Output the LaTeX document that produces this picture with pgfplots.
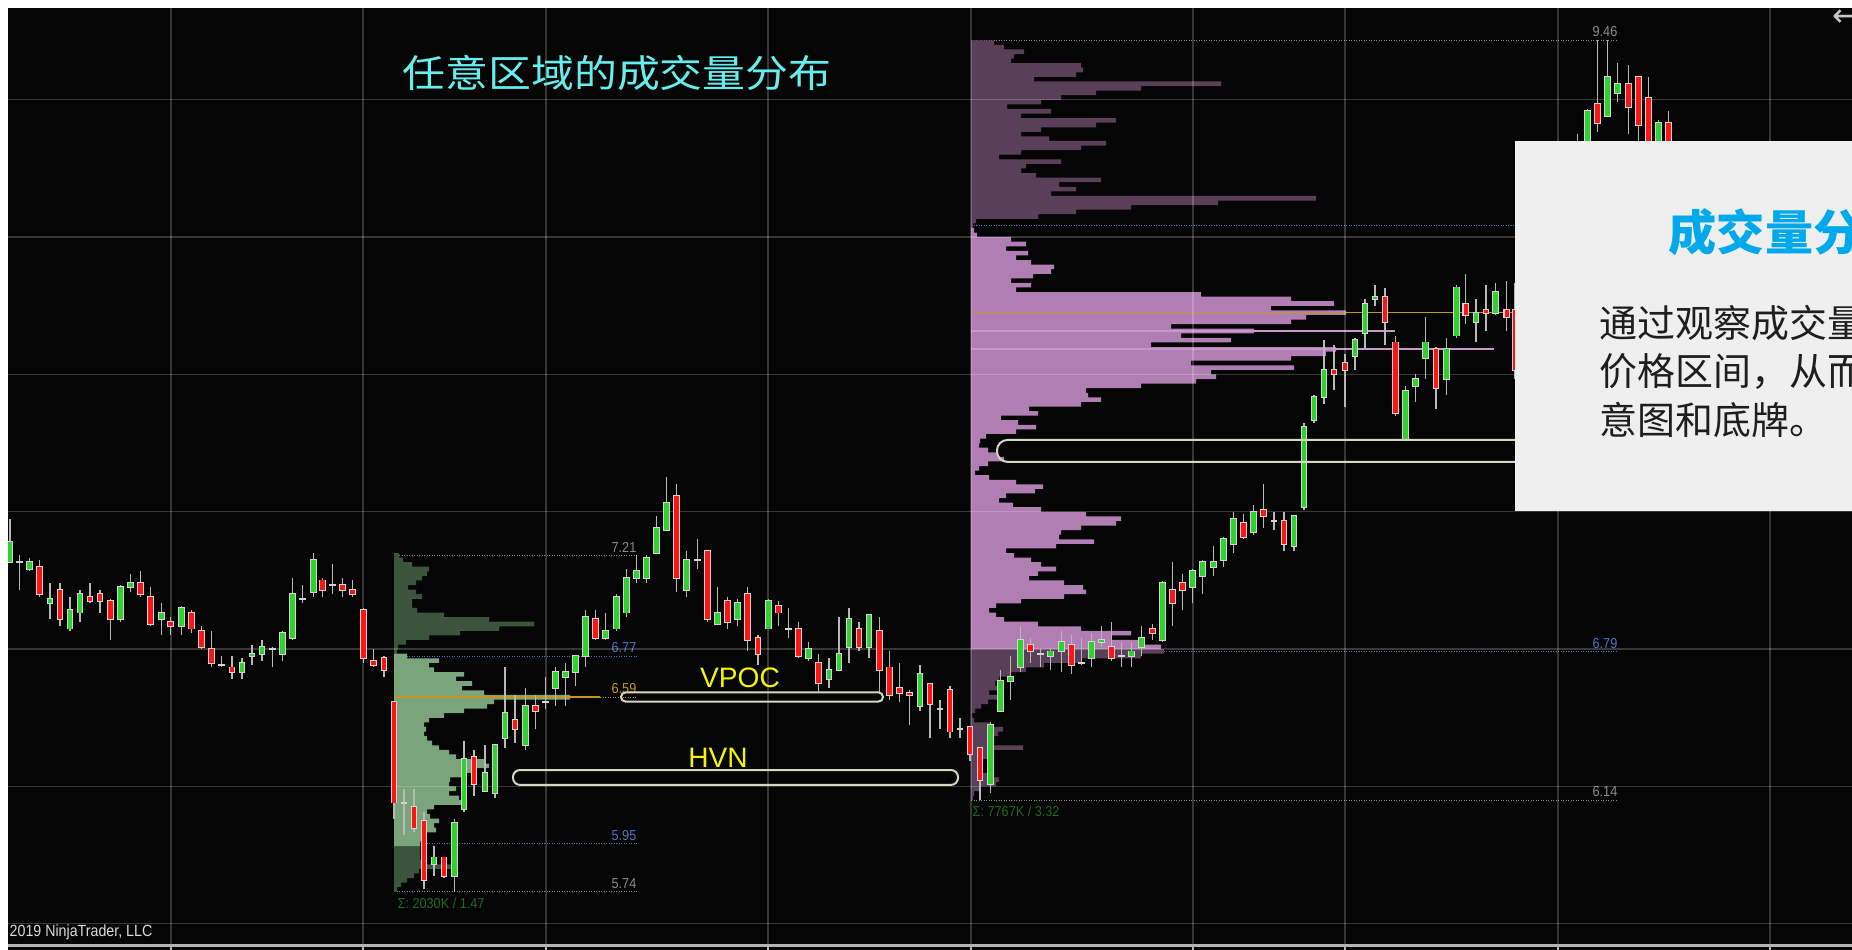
\documentclass[border=0pt]{standalone}
\usepackage{pgfplots}
\pgfplotsset{compat=1.18}
\usepackage{pgfplotstable}
\usepackage{fontspec}
\setmainfont{Liberation Sans}
\newfontfamily\narrowfont[FakeStretch=0.88]{Liberation Sans}
\newfontfamily\cjk{Noto Sans CJK SC}
\newfontfamily\cjkwide[FakeStretch=1.13]{Noto Sans CJK SC}
\newfontfamily\symb{DejaVu Sans}

\definecolor{bg}{HTML}{050505}
\definecolor{upc}{HTML}{2FD12F}
\definecolor{dnc}{HTML}{FF1414}
\definecolor{wickc}{HTML}{B8B8B8}
\definecolor{rimc}{HTML}{D4D4D4}
\definecolor{gdark}{HTML}{3B553D}
\definecolor{glight}{HTML}{7AA47A}
\definecolor{pdark}{HTML}{5A3F59}
\definecolor{plight}{HTML}{B07EB2}
\definecolor{pline}{HTML}{C896C8}
\definecolor{pocc}{HTML}{C8961E}
\definecolor{lvlgray}{HTML}{8C8C8C}
\definecolor{lvlblue}{HTML}{4A76C4}
\definecolor{sigc}{HTML}{1C6A1C}
\definecolor{ovalc}{HTML}{D6D6C2}
\definecolor{annc}{HTML}{F5F500}
\definecolor{titlec}{HTML}{66EEEE}
\definecolor{boxc}{HTML}{EFEFEF}
\definecolor{boxtitle}{HTML}{00A8EC}
\definecolor{boxtext}{HTML}{1E1E1E}
\definecolor{botc}{HTML}{B4B4B4}

% candles: x (pixel column), open, high, low, close
\pgfplotstableread{
x o h l c
10 7.18 7.37 7.18 7.27
29.3 7.15 7.20 7.14 7.18
50 7.00 7.09 6.93 7.02
70 6.89 7.03 6.88 6.97
80 6.96 7.06 6.92 7.04
120.7 6.93 7.08 6.92 7.07
130.7 7.07 7.13 7.05 7.09
161.3 6.93 7.00 6.86 6.96
181.3 6.90 6.99 6.86 6.98
242 6.70 6.76 6.67 6.74
252 6.77 6.82 6.73 6.78
262 6.78 6.84 6.75 6.81
282.7 6.78 6.88 6.75 6.87
292.7 6.85 7.11 6.84 7.04
313.3 7.05 7.22 7.03 7.19
434 5.86 5.94 5.81 5.89
454.7 5.81 6.06 5.74 6.04
464 6.10 6.40 6.09 6.32
485 6.18 6.38 6.18 6.26
495 6.17 6.38 6.15 6.38
505 6.41 6.72 6.37 6.52
525.3 6.38 6.63 6.36 6.55
555.7 6.63 6.72 6.55 6.70
565.7 6.68 6.74 6.55 6.70
575.7 6.70 6.77 6.64 6.77
585.7 6.77 6.97 6.72 6.94
605.7 6.85 6.96 6.84 6.88
616.2 6.89 7.04 6.88 7.03
626.7 6.96 7.15 6.94 7.11
636.7 7.11 7.21 7.09 7.14
646.7 7.11 7.21 7.09 7.20
656.7 7.22 7.38 7.22 7.33
666.7 7.32 7.55 7.32 7.44
686.7 7.06 7.23 7.03 7.19
717.3 6.91 7.07 6.91 6.96
737.3 6.93 7.02 6.90 7.00
768.3 6.89 7.02 6.89 7.01
808.3 6.76 6.83 6.75 6.80
829 6.67 6.76 6.63 6.71
839 6.71 6.94 6.71 6.78
849 6.81 6.98 6.74 6.93
869 6.81 6.95 6.76 6.95
920 6.55 6.73 6.53 6.69
990.3 6.21 6.48 6.17 6.47
1000.7 6.53 6.71 6.53 6.66
1010.7 6.66 6.77 6.58 6.68
1020.7 6.72 6.90 6.70 6.84
1050.7 6.77 6.80 6.71 6.79
1061.7 6.79 6.88 6.70 6.83
1091.7 6.76 6.87 6.72 6.83
1101.7 6.83 6.90 6.81 6.84
1131.7 6.77 6.83 6.72 6.79
1141.7 6.81 6.90 6.77 6.85
1162.3 6.84 7.10 6.83 7.09
1192.7 7.07 7.15 7.00 7.14
1202.7 7.12 7.19 7.04 7.18
1213.3 7.16 7.25 7.12 7.18
1223.3 7.19 7.29 7.16 7.28
1233.3 7.26 7.40 7.22 7.37
1253.3 7.31 7.43 7.30 7.40
1294 7.25 7.38 7.23 7.38
1304 7.42 7.79 7.41 7.77
1314 7.80 7.91 7.79 7.90
1324 7.90 8.15 7.87 8.02
1355 8.08 8.16 8.02 8.15
1365 8.18 8.33 8.11 8.31
1375 8.33 8.39 8.30 8.34
1405.7 7.72 7.95 7.71 7.93
1415.3 7.95 8.00 7.88 7.98
1425.4 8.07 8.25 7.98 8.14
1446.2 7.98 8.16 7.91 8.11
1456.3 8.17 8.39 8.16 8.38
1475.9 8.23 8.33 8.14 8.27
1495.5 8.27 8.40 8.26 8.36
1577.3 8.81 9.05 8.75 8.98
1587.3 8.95 9.16 8.90 9.15
1607.3 9.13 9.46 9.13 9.30
1617.3 9.23 9.36 9.19 9.27
1658.3 8.95 9.11 8.90 9.10
}\candleup

\pgfplotstableread{
x o h l c
39.3 7.16 7.19 7.03 7.04
60 7.06 7.09 6.90 6.93
90 7.03 7.09 7.00 7.01
100 7.04 7.06 6.96 7.01
110.7 7.01 7.02 6.84 6.93
140.7 7.09 7.14 7.03 7.04
150.7 7.03 7.07 6.90 6.91
170.7 6.92 6.94 6.86 6.90
191.3 6.96 6.97 6.87 6.89
201.3 6.88 6.90 6.80 6.81
211.3 6.80 6.88 6.72 6.74
232 6.72 6.77 6.67 6.70
322.7 7.10 7.11 7.03 7.06
342.7 7.08 7.11 7.03 7.06
352.7 7.06 7.10 7.03 7.04
363.3 6.97 6.98 6.74 6.76
373.3 6.75 6.80 6.72 6.73
384 6.76 6.77 6.68 6.71
394 6.57 6.57 6.06 6.13
414 6.11 6.19 6.00 6.02
424 6.05 6.09 5.75 5.79
444 5.89 5.89 5.80 5.81
474 6.33 6.36 6.16 6.21
515 6.49 6.60 6.39 6.45
535.3 6.55 6.60 6.45 6.53
595.7 6.93 6.97 6.84 6.85
676.7 7.47 7.52 7.05 7.11
707.3 7.23 7.23 6.92 6.93
727.3 7.01 7.03 6.89 6.92
747.3 7.04 7.07 6.79 6.84
758 6.85 6.86 6.73 6.78
778.3 6.99 7.01 6.90 6.96
798.3 6.89 6.92 6.76 6.77
818.3 6.74 6.78 6.61 6.65
859 6.89 6.92 6.79 6.81
879.3 6.88 6.94 6.61 6.71
889.3 6.72 6.79 6.58 6.60
899.3 6.63 6.74 6.57 6.61
909.3 6.61 6.62 6.47 6.60
930 6.65 6.65 6.41 6.56
950 6.62 6.64 6.41 6.44
970 6.46 6.46 6.31 6.34
980 6.37 6.37 6.14 6.23
1030.7 6.82 6.85 6.74 6.79
1071.7 6.82 6.86 6.69 6.73
1111.7 6.81 6.92 6.75 6.76
1152.3 6.89 6.91 6.84 6.87
1172.3 7.06 7.18 6.90 7.00
1182.3 7.09 7.13 6.97 7.06
1243.3 7.35 7.39 7.28 7.29
1263.3 7.41 7.52 7.33 7.38
1284 7.36 7.40 7.23 7.26
1334 8.02 8.13 7.93 8.00
1345 8.05 8.09 7.86 8.02
1385 8.34 8.38 8.13 8.23
1395.7 8.14 8.17 7.82 7.83
1436 8.11 8.12 7.85 7.94
1465.8 8.31 8.44 8.22 8.26
1486 8.28 8.39 8.19 8.27
1506.8 8.28 8.41 8.19 8.25
1515 8.28 8.40 7.98 8.02
1597.3 9.18 9.46 9.06 9.10
1628.3 9.27 9.35 9.05 9.17
1638.3 9.30 9.30 9.01 9.09
1648.3 9.21 9.30 8.95 9.00
1668.3 9.10 9.15 8.90 8.95
}\candledn

% doji candles: x, price, high, low
\pgfplotstableread{
x p h l
19.3 7.18 7.21 7.06
221.3 6.73 6.77 6.72
272.7 6.80 6.81 6.72
302.7 7.02 7.08 7.00
332.7 7.08 7.17 7.04
404 6.13 6.19 5.99
545.7 6.57 6.68 6.54
697.3 7.19 7.28 7.15
788.3 6.89 6.98 6.85
940 6.54 6.58 6.45
960 6.45 6.50 6.41
1040.7 6.78 6.80 6.72
1081.7 6.74 6.85 6.73
1121.7 6.77 6.83 6.72
1274 7.36 7.40 7.32
}\candledj

% left volume profile (price, width in px)
\pgfplotstableread{
p w
7.21 5
7.19 9
7.17 18
7.15 35
7.13 33
7.11 28
7.09 22
7.07 14
7.05 22
7.03 28
7.01 18
6.99 18
6.97 23
6.95 50
6.93 95
6.91 140
6.89 105
6.87 66
6.85 35
6.83 12
6.81 4
6.79 3
5.93 26
5.91 26
5.89 26
5.87 30
5.85 60
5.83 25
5.81 20
5.79 13
5.77 7
5.75 3
}\lpdark

\pgfplotstableread{
p w
6.77 13
6.75 45
6.73 35
6.71 40
6.69 70
6.67 62
6.65 78
6.63 68
6.61 90
6.59 176
6.57 100
6.55 93
6.53 70
6.51 50
6.49 35
6.47 30
6.45 32
6.43 30
6.41 33
6.39 38
6.37 45
6.35 55
6.33 62
6.31 90
6.29 95
6.27 80
6.25 68
6.23 56
6.21 55
6.19 62
6.17 55
6.15 65
6.13 70
6.11 40
6.09 33
6.07 36
6.05 45
6.03 40
6.01 42
5.99 32
5.97 28
5.95 26
}\lplight

% right volume profile
\pgfplotstableread{
p w
9.45 23
9.43 33
9.41 53
9.39 43
9.37 40
9.35 110
9.33 112
9.31 105
9.29 63
9.27 250
9.25 170
9.23 125
9.21 90
9.19 70
9.17 36
9.15 80
9.13 50
9.11 145
9.09 125
9.07 70
9.05 50
9.03 78
9.01 135
8.99 110
8.97 50
8.95 28
8.93 90
8.91 55
8.89 50
8.87 65
8.85 130
8.83 88
8.81 105
8.79 80
8.77 345
8.75 247
8.73 160
8.71 105
8.69 67
8.67 5
8.65 2
6.79 193
6.77 170
6.75 110
6.73 73
6.71 55
6.69 40
6.67 28
6.65 24
6.63 26
6.61 18
6.59 26
6.57 17
6.55 10
6.53 4
6.51 1
6.49 3
6.47 20
6.45 32
6.43 27
6.41 23
6.39 20
6.37 52
6.35 23
6.33 17
6.31 12
6.29 10
6.27 10
6.25 18
6.23 28
6.21 25
6.19 8
6.17 3
6.15 2
}\rpdark

\pgfplotstableread{
p w
8.63 3
8.61 6
8.59 40
8.57 55
8.55 35
8.53 57
8.51 45
8.49 60
8.47 83
8.45 80
8.43 62
8.41 40
8.39 60
8.37 45
8.35 230
8.33 320
8.31 363
8.29 300
8.27 375
8.25 335
8.23 320
8.21 200
8.19 283
8.17 210
8.15 260
8.13 180
8.11 365
8.09 355
8.07 320
8.05 220
8.03 323
8.01 240
7.99 245
7.97 225
7.95 170
7.93 115
7.91 117
7.89 130
7.87 110
7.85 58
7.83 67
7.81 30
7.79 47
7.77 65
7.75 45
7.73 15
7.71 9
7.69 8
7.67 17
7.65 26
7.63 33
7.61 17
7.59 8
7.57 4
7.55 18
7.53 45
7.51 72
7.49 64
7.47 35
7.45 28
7.43 42
7.41 70
7.39 115
7.37 150
7.35 145
7.33 110
7.31 90
7.29 88
7.27 123
7.25 85
7.23 35
7.21 43
7.19 60
7.17 70
7.15 85
7.13 67
7.11 58
7.09 93
7.07 112
7.05 115
7.03 93
7.01 50
6.99 25
6.97 18
6.95 25
6.93 33
6.91 67
6.89 110
6.87 160
6.85 140
6.83 170
6.81 190
}\rplight

\pgfplotsset{
  chart/.style={at={(0,0)}, anchor=south west, scale only axis,
    width=185.2mm, height=95mm, xmin=0, xmax=1852, ymin=5.4857, ymax=9.636},
  wick/.style={draw=none, mark=none, forget plot,
    error bars/y dir=both, error bars/y explicit, error bars/error mark=none,
    error bars/error bar style={draw=#1, line width=0.12mm}},
  body/.style 2 args={draw=none, mark=none, forget plot,
    error bars/y dir=both, error bars/y explicit, error bars/error mark=none,
    error bars/error bar style={draw=#1, line width=#2}},
  lvl/.style={#1, line width=0.1mm, dash pattern=on 0.1mm off 0.15mm, mark=none, forget plot},
  prof/.style={xbar, bar shift=0pt, fill=#1, draw=none, forget plot},
}
\newcommand\lblfont{\narrowfont\fontsize{4.1}{5}\selectfont}

\begin{document}
\begin{tikzpicture}
\useasboundingbox (0,0) rectangle (185.2mm,95mm);
\clip (0,0) rectangle (185.2mm,95mm);
\fill[bg] (0,0) rectangle (185.2mm,95mm);

% left volume profile, its base at pixel column 394
\begin{axis}[chart, xmin=-394, xmax=1458, hide axis, bar width=0.02]
\addplot[lvl=lvlgray] coordinates {(0,7.21) (243,7.21)};
\addplot[lvl=lvlblue] coordinates {(0,6.77) (243,6.77)};
\addplot[lvl=lvlblue] coordinates {(0,5.95) (243,5.95)};
\addplot[lvl=lvlgray] coordinates {(0,5.74) (243,5.74)};
\addplot[prof=gdark] table[x=w, y=p] {\lpdark};
\addplot[prof=glight] table[x=w, y=p] {\lplight};
\addplot[pocc, line width=0.15mm, mark=none] coordinates {(0,6.59) (206,6.59)};
\addplot[lvl=pocc] coordinates {(206,6.59) (243,6.59)};
\node[anchor=south east, inner sep=0pt, yshift=0.25mm, text=lvlgray] at (axis cs:243,7.21) {\lblfont 7.21};
\node[anchor=south east, inner sep=0pt, yshift=0.25mm, text=lvlblue] at (axis cs:243,6.77) {\lblfont 6.77};
\node[anchor=south east, inner sep=0pt, yshift=0.25mm, text=pocc] at (axis cs:243,6.59) {\lblfont 6.59};
\node[anchor=south east, inner sep=0pt, yshift=0.25mm, text=lvlblue] at (axis cs:243,5.95) {\lblfont 5.95};
\node[anchor=south east, inner sep=0pt, yshift=0.25mm, text=lvlgray] at (axis cs:243,5.74) {\lblfont 5.74};
\node[anchor=west, inner sep=0pt, text=sigc] at (axis cs:3,5.689) {\lblfont Σ: 2030K / 1.47};
\end{axis}

% right volume profile, its base at pixel column 971
\begin{axis}[chart, xmin=-971, xmax=881, hide axis, bar width=0.02]
\addplot[lvl=lvlgray] coordinates {(0,9.46) (647,9.46)};
\addplot[lvl=lvlblue] coordinates {(0,8.65) (647,8.65)};
\addplot[lvl=lvlblue] coordinates {(0,6.79) (647,6.79)};
\addplot[lvl=lvlgray] coordinates {(0,6.14) (647,6.14)};
\addplot[prof=pdark] table[x=w, y=p] {\rpdark};
\addplot[prof=plight] table[x=w, y=p] {\rplight};
\addplot[pline, line width=0.2mm, mark=none] coordinates {(0,8.19) (424,8.19)};
\addplot[pline, line width=0.2mm, mark=none] coordinates {(0,8.11) (523,8.11)};
\addplot[pocc, line width=0.15mm, mark=none] coordinates {(0,8.27) (647,8.27)};
\node[anchor=south east, inner sep=0pt, yshift=0.25mm, text=lvlgray] at (axis cs:647,9.46) {\lblfont 9.46};
\node[anchor=south east, inner sep=0pt, yshift=0.25mm, text=lvlblue] at (axis cs:647,6.79) {\lblfont 6.79};
\node[anchor=south east, inner sep=0pt, yshift=0.25mm, text=lvlgray] at (axis cs:647,6.14) {\lblfont 6.14};
\node[anchor=west, inner sep=0pt, text=sigc] at (axis cs:1,6.091) {\lblfont Σ: 7767K / 3.32};
\end{axis}

% price grid and candles
\begin{axis}[chart, axis line style={draw=none}, tick style={draw=none},
  xtick={171,363,546,768,971,1193,1345,1558,1770},
  ytick={5.6,6.2,6.8,7.4,8.0,8.6,9.2},
  xticklabels={}, yticklabels={},
  grid=major, major grid style={draw=white, draw opacity=0.2, line width=0.13mm}]
\addplot[wick=wickc] table[x=x, y expr={(\thisrow{h}+\thisrow{l})/2}, y error expr={(\thisrow{h}-\thisrow{l})/2}] {\candleup};
\addplot[wick=wickc] table[x=x, y expr={(\thisrow{h}+\thisrow{l})/2}, y error expr={(\thisrow{h}-\thisrow{l})/2}] {\candledn};
\addplot[wick=wickc] table[x=x, y expr={(\thisrow{h}+\thisrow{l})/2}, y error expr={(\thisrow{h}-\thisrow{l})/2}] {\candledj};
\addplot[body={rimc}{0.68mm}] table[x=x, y expr={(\thisrow{o}+\thisrow{c})/2}, y error expr={abs(\thisrow{o}-\thisrow{c})/2+0.004}] {\candleup};
\addplot[body={upc}{0.46mm}] table[x=x, y expr={(\thisrow{o}+\thisrow{c})/2}, y error expr={abs(\thisrow{o}-\thisrow{c})/2}] {\candleup};
\addplot[body={rimc}{0.68mm}] table[x=x, y expr={(\thisrow{o}+\thisrow{c})/2}, y error expr={abs(\thisrow{o}-\thisrow{c})/2+0.004}] {\candledn};
\addplot[body={dnc}{0.46mm}] table[x=x, y expr={(\thisrow{o}+\thisrow{c})/2}, y error expr={abs(\thisrow{o}-\thisrow{c})/2}] {\candledn};
\addplot[body={rimc}{0.68mm}] table[x=x, y=p, y error expr={0.004}] {\candledj};

% annotations
\draw[ovalc, line width=0.2mm, rounded corners=0.45mm] (axis cs:621,6.571) rectangle (axis cs:883,6.611);
\draw[ovalc, line width=0.2mm, rounded corners=0.7mm] (axis cs:513,6.207) rectangle (axis cs:958,6.272);
\draw[ovalc, line width=0.2mm, rounded corners=1.05mm] (axis cs:997,7.618) rectangle (axis cs:1560,7.714);
\node[text=annc, inner sep=0pt] at (axis cs:740,6.674) {\fontsize{8}{9}\selectfont VPOC};
\node[text=annc, inner sep=0pt] at (axis cs:718,6.327) {\fontsize{8}{9}\selectfont HVN};
\end{axis}

% frame, caption and text panel (pixel coordinates, origin top left)
\begin{scope}[x=0.1mm, y=-0.1mm, shift={(0mm,95mm)}]
\fill[white] (0,0) rectangle (1852,8);
\fill[white] (0,0) rectangle (8,950);
\draw[botc, line width=0.3mm] (8,946) -- (1852,946);
\foreach \gx in {171,363,546,768,971,1193,1345,1558,1770}
  \draw[botc, line width=0.15mm] (\gx,946) -- (\gx,950);
\node[anchor=west, inner sep=0pt, text=white!86!black] at (9,932) {\narrowfont\fontsize{4.6}{5.5}\selectfont 2019 NinjaTrader, LLC};
\node[inner sep=0pt, text=titlec] at (617,73) {\cjkwide\fontsize{10.8}{12}\selectfont 任意区域的成交量分布};
\node[inner sep=0pt, text=white!78!black] at (1846,18) {\symb\fontsize{9}{10}\selectfont ←};
\fill[boxc] (1515,141) rectangle (1852,511);
\node[anchor=west, inner sep=0pt, text=boxtitle] at (1668,232.5) {\cjk\bfseries\fontsize{13.7}{15}\selectfont 成交量分布};
\node[anchor=west, inner sep=0pt, text=boxtext] at (1599,323.5) {\cjk\fontsize{10.8}{12}\selectfont 通过观察成交量};
\node[anchor=west, inner sep=0pt, text=boxtext] at (1599,371.5) {\cjk\fontsize{10.8}{12}\selectfont 价格区间，从而};
\node[anchor=west, inner sep=0pt, text=boxtext] at (1599,419.5) {\cjk\fontsize{10.8}{12}\selectfont 意图和底牌。};
\end{scope}
\end{tikzpicture}
\end{document}
